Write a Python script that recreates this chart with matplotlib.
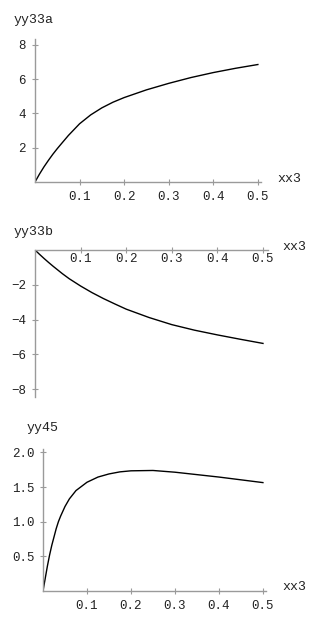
import matplotlib
matplotlib.use('Agg')
import matplotlib.pyplot as plt


W, H = 317, 625

# curve yy33a
xx_a = [0, 0.01, 0.02, 0.03, 0.04, 0.05, 0.06, 0.075, 0.1, 0.125, 0.15,
        0.175, 0.2, 0.25, 0.3, 0.35, 0.4, 0.45, 0.5]
yy33a = [0, 0.46, 0.88, 1.26, 1.62, 1.95, 2.26, 2.72, 3.4, 3.92, 4.33,
         4.66, 4.93, 5.38, 5.76, 6.1, 6.39, 6.64, 6.86]

# curve yy33b
xx_b = [0, 0.01, 0.02, 0.03, 0.04, 0.05, 0.06, 0.075, 0.1, 0.125, 0.15,
        0.175, 0.2, 0.25, 0.3, 0.35, 0.4, 0.45, 0.5]
yy33b = [0, -0.25, -0.49, -0.72, -0.94, -1.15, -1.36, -1.65, -2.07, -2.45,
         -2.79, -3.1, -3.4, -3.88, -4.29, -4.61, -4.88, -5.13, -5.37]

# curve yy45
xx_c = [0, 0.005, 0.01, 0.015, 0.02, 0.025, 0.03, 0.035, 0.04, 0.05, 0.06,
        0.075, 0.1, 0.125, 0.15, 0.175, 0.2, 0.25, 0.3, 0.35, 0.4, 0.45, 0.5]
yy45 = [0, 0.18, 0.36, 0.52, 0.66, 0.78, 0.9, 1.0, 1.08, 1.22, 1.33,
        1.45, 1.57, 1.645, 1.69, 1.72, 1.735, 1.74, 1.715, 1.68, 1.645,
        1.605, 1.565]

x_ticks = [0.1, 0.2, 0.3, 0.4, 0.5]
x_ticklabels = ['0.1', '0.2', '0.3', '0.4', '0.5']

axis_grey = '#9a9a9a'
mono = 'Liberation Mono'


def add_panel(fig, x0px, x1px, xlim, ytop_px, ybot_px, ylim):
    left = x0px / W
    width = (x1px - x0px) / W
    bottom = 1 - ybot_px / H
    height = (ybot_px - ytop_px) / H
    ax = fig.add_axes([left, bottom, width, height])
    ax.set_xlim(*xlim)
    ax.set_ylim(*ylim)
    ax.patch.set_visible(False)
    for side in ['top', 'right']:
        ax.spines[side].set_visible(False)
    for side in ['left', 'bottom']:
        ax.spines[side].set_position(('data', 0))
        ax.spines[side].set_color(axis_grey)
        ax.spines[side].set_linewidth(1.0)
    ax.tick_params(direction='inout', length=5, width=0.8, color=axis_grey,
                   labelsize=9, labelcolor='#222222')
    return ax


def fig_text(fig, x, y, s):
    fig.text(x / W, 1 - y / H, s, family=mono, fontsize=9.5,
             color='#222222', va='center', ha='left')


fig = plt.figure(figsize=(W / 100, H / 100), dpi=100)

# panel 1
ax1 = add_panel(fig, 35, 261, (0, 0.507), 39, 182, (0, 8.35))
ax1.plot(xx_a, yy33a, color='black', lw=1.0)
ax1.set_xticks(x_ticks)
ax1.set_xticklabels(x_ticklabels, family=mono)
ax1.set_yticks([2, 4, 6, 8])
ax1.set_yticklabels(['2', '4', '6', '8'], family=mono)
ax1.tick_params(axis='x', pad=4)
ax1.tick_params(axis='y', pad=4)
fig_text(fig, 14, 20, 'yy33a')
fig_text(fig, 277, 179, 'xx3')

# panel 2
ax2 = add_panel(fig, 35, 268, (0, 0.511), 250, 397, (-8.45, 0))
ax2.plot(xx_b, yy33b, color='black', lw=1.0)
ax2.set_xticks(x_ticks)
ax2.set_xticklabels(x_ticklabels, family=mono)
ax2.set_yticks([-8, -6, -4, -2])
ax2.set_yticklabels(['\u22128', '\u22126', '\u22124', '\u22122'], family=mono)
ax2.tick_params(axis='x', pad=0)
fig_text(fig, 14, 232, 'yy33b')
fig_text(fig, 282, 247, 'xx3')

# panel 3
ax3 = add_panel(fig, 43, 266, (0, 0.507), 449, 591, (0, 2.05))
ax3.plot(xx_c, yy45, color='black', lw=1.0)
ax3.set_xticks(x_ticks)
ax3.set_xticklabels(x_ticklabels, family=mono)
ax3.set_yticks([0.5, 1.0, 1.5, 2.0])
ax3.set_yticklabels(['0.5', '1.0', '1.5', '2.0'], family=mono)
ax3.tick_params(axis='x', pad=4)
fig_text(fig, 27, 428, 'yy45')
fig_text(fig, 282, 587, 'xx3')

fig.savefig('out.png', dpi=100, facecolor='white')
